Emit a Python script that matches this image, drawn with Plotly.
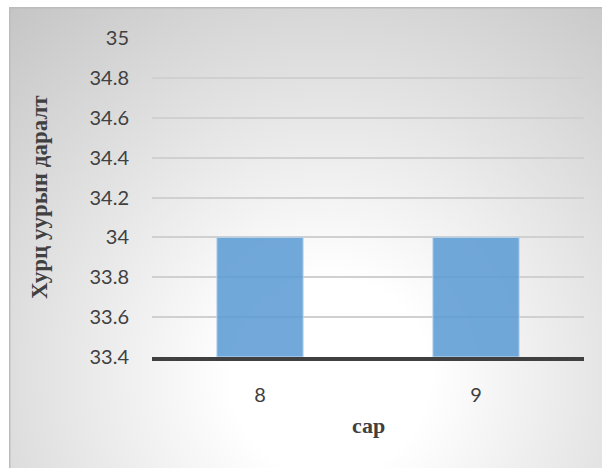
import base64
import plotly.graph_objects as go

# Monthly values
months = ["8", "9"]
pressure = [34, 34]

y_min, y_max, y_step = 33.4, 35, 0.2

# Chart frame: radial grey-to-white fill with a thin top/left border
frame_w, frame_h = 593, 461
frame_svg = f"""<svg xmlns='http://www.w3.org/2000/svg' width='{frame_w}' height='{frame_h}' viewBox='0 0 {frame_w} {frame_h}'>
<defs>
<radialGradient id='g' gradientUnits='userSpaceOnUse' cx='321' cy='370' r='495'>
<stop offset='0' stop-color='#ffffff'/>
<stop offset='0.2' stop-color='#ffffff'/>
<stop offset='1' stop-color='#c4c4c4'/>
</radialGradient>
</defs>
<rect x='0' y='0' width='{frame_w}' height='{frame_h}' fill='url(#g)'/>
<path d='M0.75 {frame_h} L0.75 0.75 L{frame_w} 0.75' fill='none' stroke='#bcbcbc' stroke-width='1.5'/>
</svg>"""
frame_uri = "data:image/svg+xml;base64," + base64.b64encode(frame_svg.encode()).decode()

# Plot area in pixels (602 x 468 page)
W, H = 602, 468
L, R, T, B = 152, 18, 38, 111
pw, ph = W - L - R, H - T - B


def px_x(x):
    return (x - L) / pw


def px_y(y):
    return (H - B - y) / ph


fig = go.Figure()
fig.add_trace(go.Bar(
    x=months,
    y=[v - y_min for v in pressure],
    base=y_min,
    marker=dict(color="#5b9bd5", opacity=0.86,
                line=dict(color="#bdd7ee", width=1)),
    width=0.4,
    hoverinfo="skip",
))

tick_font = dict(family="Lato, sans-serif", size=20, color="#404040")
title_font = dict(family="Liberation Serif, Times New Roman, serif", size=22, color="#404040")

fig.update_layout(
    width=W, height=H,
    margin=dict(l=L, r=R, t=T, b=B, pad=0),
    paper_bgcolor="white",
    plot_bgcolor="rgba(0,0,0,0)",
    showlegend=False,
    images=[dict(
        source=frame_uri, xref="paper", yref="paper",
        x=px_x(9), y=px_y(7), sizex=frame_w / pw, sizey=frame_h / ph,
        xanchor="left", yanchor="top", sizing="stretch", layer="below",
    )],
    xaxis=dict(
        type="category", categoryorder="array", categoryarray=months,
        showgrid=False, showline=True, linecolor="#404040", linewidth=3.5,
        ticks="", tickfont=tick_font, ticklabelstandoff=17,
        fixedrange=True,
    ),
    yaxis=dict(
        range=[y_min, y_max], dtick=y_step, tick0=y_min,
        showgrid=True, gridcolor="#d0d0d0", gridwidth=1.5,
        zeroline=False, showline=False, ticks="",
        tickfont=tick_font, ticklabelstandoff=22,
        fixedrange=True,
    ),
    annotations=[
        dict(text="<b>Хурц уурын даралт</b>", xref="paper", yref="paper",
             x=px_x(39), y=px_y(197), textangle=-90, showarrow=False,
             xanchor="center", yanchor="middle", font=dict(title_font, size=23)),
        dict(text="<b>сар</b>", xref="paper", yref="paper",
             x=0.5, y=px_y(425), showarrow=False,
             xanchor="center", yanchor="middle", font=title_font),
    ],
)

fig.write_html("out.html")
